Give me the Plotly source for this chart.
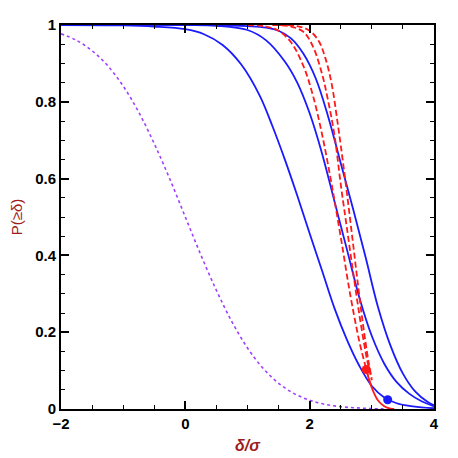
import plotly.graph_objects as go

# Gaussian reference (dotted)
gauss_x = [-2.0, -1.75, -1.5, -1.25, -1.0, -0.75, -0.5, -0.25, 0.0, 0.25, 0.5, 0.75,
           1.0, 1.25, 1.5, 1.75, 2.0, 2.25, 2.5, 2.75, 3.0, 3.25]
gauss_y = [0.977, 0.960, 0.933, 0.894, 0.841, 0.773, 0.691, 0.599, 0.500, 0.401, 0.309, 0.227,
           0.159, 0.106, 0.067, 0.040, 0.023, 0.012, 0.006, 0.003, 0.001, 0.0006]

# blue solid curves
blue1_x = [-2.0, -1.0, -0.5, 0.0, 0.3, 0.6, 0.9, 1.2, 1.4, 1.6, 1.8, 2.0, 2.2,
           2.4, 2.6, 2.8, 3.0, 3.2, 3.4, 3.6, 3.8, 4.0]
blue1_y = [1.0, 0.999, 0.996, 0.989, 0.976, 0.948, 0.897, 0.815, 0.737, 0.650, 0.556, 0.457, 0.360,
           0.262, 0.180, 0.112, 0.060, 0.030, 0.015, 0.008, 0.004, 0.002]

blue2_x = [-2.0, 0.0, 0.5, 1.0, 1.3, 1.6, 1.8, 2.0, 2.2, 2.4, 2.6, 2.8, 3.0,
           3.2, 3.4, 3.6, 3.8, 4.0]
blue2_y = [1.0, 1.0, 0.998, 0.987, 0.960, 0.905, 0.850, 0.770, 0.665, 0.540, 0.415, 0.290, 0.190,
           0.118, 0.070, 0.040, 0.020, 0.007]

blue3_x = [-2.0, 0.5, 1.0, 1.3, 1.5, 1.7, 1.9, 2.1, 2.3, 2.5, 2.7, 2.9, 3.1,
           3.3, 3.5, 3.7, 3.9, 4.0]
blue3_y = [1.0, 1.0, 0.997, 0.993, 0.985, 0.965, 0.925, 0.860, 0.760, 0.640, 0.520, 0.395, 0.265,
           0.165, 0.092, 0.045, 0.018, 0.010]

# red dashed curves
redA_x = [1.0, 1.3, 1.5, 1.7, 1.9, 2.05, 2.2, 2.35, 2.5, 2.65, 2.8, 2.9, 2.95, 3.0]
redA_y = [1.0, 0.996, 0.985, 0.955, 0.893, 0.818, 0.715, 0.588, 0.448, 0.300, 0.175, 0.110, 0.080, 0.055]

redB_x = [1.4, 1.7, 1.9, 2.05, 2.2, 2.3, 2.4, 2.5, 2.6, 2.7, 2.8, 2.9, 2.95, 3.0]
redB_y = [1.0, 0.996, 0.982, 0.945, 0.872, 0.800, 0.712, 0.585, 0.470, 0.355, 0.245, 0.148, 0.108, 0.075]

redC_x = [1.5, 1.8, 2.0, 2.15, 2.25, 2.35, 2.45, 2.55, 2.65, 2.75, 2.85, 2.95, 3.0]
redC_y = [1.0, 0.997, 0.985, 0.957, 0.915, 0.850, 0.745, 0.625, 0.495, 0.360, 0.230, 0.120, 0.080]

# red solid tail
red_tail_x = [2.91, 3.0, 3.1, 3.2, 3.3, 3.36]
red_tail_y = [0.103, 0.055, 0.022, 0.007, 0.001, 0.0]

# marked points
red_pt = ([2.91], [0.103])
blue_pt = ([3.255], [0.024])

x_ticks = [-2, 0, 2, 4]
x_ticktext = ["\u22122", "0", "2", "4"]
y_ticks = [0, 0.2, 0.4, 0.6, 0.8, 1]
y_ticktext = ["0", "0.2", "0.4", "0.6", "0.8", "1"]

BLUE = "#1a1aff"
RED = "#ff1a1a"
PURPLE = "#a040ff"
TITLE_RED = "#a01c1c"

fig = go.Figure()

fig.add_trace(go.Scatter(x=gauss_x, y=gauss_y, mode="lines", line_shape="spline",
                         line=dict(color=PURPLE, width=1.6, dash="dot")))

for xs, ys in [(blue1_x, blue1_y), (blue2_x, blue2_y), (blue3_x, blue3_y)]:
    fig.add_trace(go.Scatter(x=xs, y=ys, mode="lines", line_shape="spline",
                             line=dict(color=BLUE, width=1.8)))

for xs, ys in [(redA_x, redA_y), (redB_x, redB_y), (redC_x, redC_y)]:
    fig.add_trace(go.Scatter(x=xs, y=ys, mode="lines", line_shape="spline",
                             line=dict(color=RED, width=1.8, dash="6px,3px")))

fig.add_trace(go.Scatter(x=red_tail_x, y=red_tail_y, mode="lines", line_shape="spline",
                         line=dict(color=RED, width=1.8)))

fig.add_trace(go.Scatter(x=red_pt[0], y=red_pt[1], mode="markers",
                         marker=dict(color=RED, size=9)))
fig.add_trace(go.Scatter(x=blue_pt[0], y=blue_pt[1], mode="markers",
                         marker=dict(color=BLUE, size=9)))

axis_common = dict(
    showline=True, linecolor="black", linewidth=2, mirror="ticks",
    ticks="inside", ticklen=8, tickwidth=1.6, tickcolor="black",
    showgrid=False, zeroline=False, automargin=False,
    tickfont=dict(family="Liberation Sans, Arial, sans-serif", size=15, color="black", weight="bold"),
)

fig.update_xaxes(range=[-2, 4], tickvals=x_ticks, ticktext=x_ticktext,
                 minor=dict(ticks="inside", ticklen=4, tickwidth=1.4, dtick=0.5, tickcolor="black"),
                 title=dict(text="<b><i>\u03b4/\u03c3</i></b>", standoff=9,
                            font=dict(family="Liberation Sans, Arial, sans-serif", size=16, color=TITLE_RED)),
                 **axis_common)
fig.update_yaxes(range=[0, 1], tickvals=y_ticks, ticktext=y_ticktext,
                 minor=dict(ticks="inside", ticklen=4, tickwidth=1.4, dtick=0.05, tickcolor="black"),
                 title=dict(text="P(\u2265\u03b4)", standoff=12,
                            font=dict(family="Liberation Sans, Arial, sans-serif", size=15, color=TITLE_RED)),
                 **axis_common)

# the page body keeps its default 8px margin, so the figure is drawn 8px smaller
fig.update_layout(
    width=450, height=450,
    margin=dict(l=53, r=24, t=17, b=49),
    plot_bgcolor="white", paper_bgcolor="white",
    showlegend=False,
)

fig.write_html("out.html")
